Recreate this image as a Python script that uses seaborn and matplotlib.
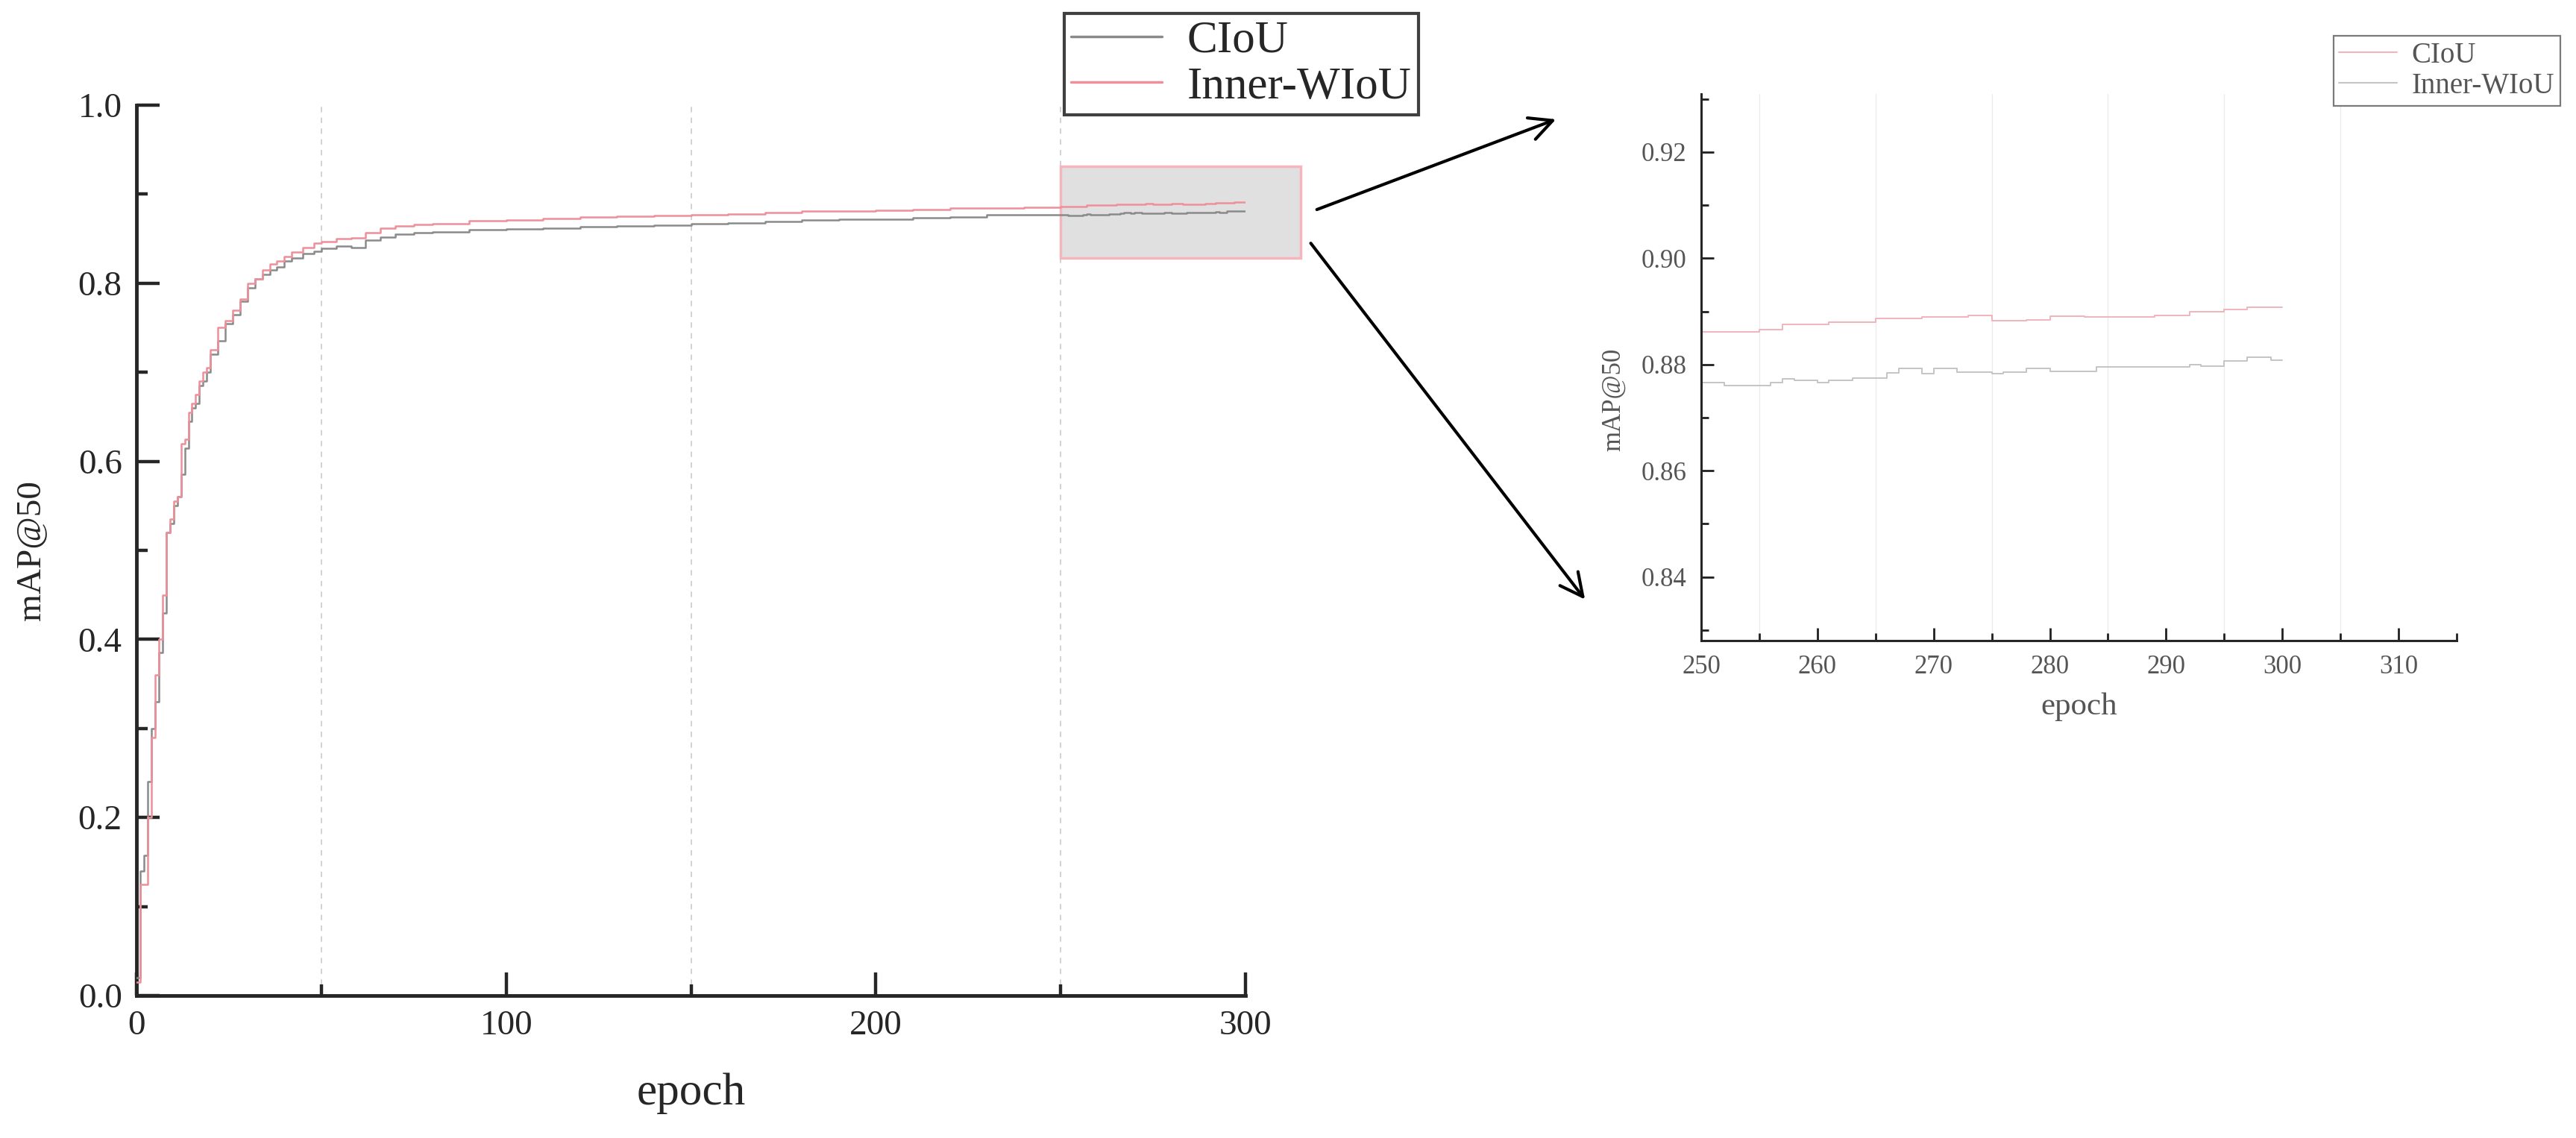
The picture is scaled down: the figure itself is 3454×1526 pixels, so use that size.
import matplotlib
matplotlib.use("Agg")
import matplotlib.pyplot as plt
import numpy as np
import pandas as pd
import seaborn as sns
from matplotlib.lines import Line2D
from matplotlib.patches import Rectangle
from matplotlib.ticker import MultipleLocator

# mAP@50 per epoch (step points)
ciou_epoch = [0, 1, 2, 3, 4, 5, 6, 7, 8, 9, 10, 11, 12, 13, 14, 15, 16, 17, 18, 19, 20,
              22, 24, 26, 28, 30, 32, 34, 36, 38, 40, 42, 45, 48, 50, 54, 58, 62, 66, 70,
              75, 80, 90, 100, 110, 120, 130, 140, 150, 160, 170, 180, 190, 200, 210, 220,
              230, 240, 250, 252, 256, 257, 258, 260, 261, 263, 266, 267, 269, 270, 272,
              275, 276, 278, 280, 284, 292, 293, 295, 297, 299, 300]
ciou_map = [0.02, 0.14, 0.157, 0.24, 0.30, 0.33, 0.385, 0.43, 0.52, 0.53, 0.55, 0.56, 0.585,
            0.615, 0.645, 0.66, 0.665, 0.685, 0.69, 0.70, 0.72,
            0.735, 0.755, 0.765, 0.78, 0.795, 0.805, 0.81, 0.815, 0.818, 0.825, 0.828, 0.833,
            0.836, 0.839, 0.842, 0.840, 0.848, 0.852, 0.855,
            0.857, 0.858, 0.860, 0.861, 0.862, 0.8635, 0.8645, 0.8655, 0.8665, 0.868, 0.8695,
            0.871, 0.8715, 0.8722, 0.8735, 0.8745,
            0.8765, 0.8765, 0.8766, 0.876, 0.8766, 0.8773, 0.877, 0.8766, 0.877, 0.8774,
            0.8784, 0.8792, 0.8783, 0.8792, 0.8786,
            0.8783, 0.8786, 0.8792, 0.8787, 0.8795, 0.880, 0.8797, 0.8807, 0.8813, 0.8808, 0.8808]

wiou_epoch = [0, 1, 2, 3, 4, 5, 6, 7, 8, 9, 10, 11, 12, 13, 14, 15, 16, 17, 18, 19, 20,
              22, 24, 26, 28, 30, 32, 34, 36, 38, 40, 42, 45, 48, 50, 54, 58, 62, 66, 70,
              75, 80, 90, 100, 110, 120, 130, 140, 150, 160, 170, 180, 190, 200, 210, 220,
              230, 240, 250, 255, 257, 261, 265, 269, 273, 275, 278, 280, 283, 289, 292,
              295, 297, 300]
wiou_map = [0.015, 0.125, 0.125, 0.20, 0.29, 0.36, 0.40, 0.45, 0.52, 0.535, 0.555, 0.56, 0.62,
            0.625, 0.655, 0.665, 0.675, 0.69, 0.70, 0.705, 0.725,
            0.75, 0.758, 0.77, 0.782, 0.80, 0.805, 0.815, 0.822, 0.825, 0.83, 0.835, 0.84,
            0.845, 0.847, 0.85, 0.851, 0.857, 0.862, 0.864,
            0.866, 0.867, 0.870, 0.871, 0.873, 0.874, 0.8755, 0.876, 0.8765, 0.878, 0.8795,
            0.8808, 0.881, 0.8815, 0.8825, 0.884,
            0.884, 0.8852, 0.8862, 0.8865, 0.8875, 0.888, 0.8886, 0.8889, 0.8892, 0.8882,
            0.8884, 0.8891, 0.8889, 0.8893, 0.890,
            0.8904, 0.8908, 0.8908]

labels = ["CIoU", "Inner-WIoU"]
zoom_x = (250, 315)
zoom_y = (0.828, 0.931)

GRAY = "#8a8a8a"
PINK = "#ee8f99"

sns.set_style("ticks")
plt.rcParams['font.family'] = ['Liberation Serif', 'DejaVu Serif']

df_c = pd.DataFrame({"epoch": ciou_epoch, "map": ciou_map})
df_w = pd.DataFrame({"epoch": wiou_epoch, "map": wiou_map})

fig = plt.figure(figsize=(34.55, 15.26), dpi=100)

# ---- main plot
ax = fig.add_axes([0.053, 0.1252, 0.4304, 0.7824])
ax.add_patch(Rectangle((zoom_x[0], zoom_y[0]), zoom_x[1] - zoom_x[0], zoom_y[1] - zoom_y[0],
                       facecolor="#e0e0e0", edgecolor="#f5b5bd", lw=2.5, clip_on=False, zorder=1))
sns.lineplot(data=df_c, x="epoch", y="map", ax=ax, color=GRAY, lw=1.8,
             drawstyle="steps-post", estimator=None, zorder=3)
sns.lineplot(data=df_w, x="epoch", y="map", ax=ax, color=PINK, lw=1.8,
             drawstyle="steps-post", estimator=None, zorder=4)
ax.set_xlim(0, 300)
ax.set_ylim(0, 1.0)
ax.xaxis.set_major_locator(MultipleLocator(100))
ax.xaxis.set_minor_locator(MultipleLocator(50))
ax.yaxis.set_major_locator(MultipleLocator(0.2))
ax.yaxis.set_minor_locator(MultipleLocator(0.1))
ax.yaxis.set_major_formatter(plt.FuncFormatter(lambda v, p: f"{v:.1f}"))
ax.grid(False)
for x in [50, 150, 250]:
    ax.axvline(x, color="#cfcfcf", ls=(0, (4, 4)), lw=1.3, zorder=0)
ax.tick_params(which="major", direction="in", length=22, width=3.2, labelsize=34, pad=14)
ax.tick_params(which="minor", direction="in", length=11, width=3.2)
ax.spines[["top", "right"]].set_visible(False)
for s in ["left", "bottom"]:
    ax.spines[s].set_linewidth(3.5)
ax.set_xlabel("epoch", fontsize=44, labelpad=30)
ax.set_ylabel("mAP@50", fontsize=34, labelpad=30)

main_handles = [Line2D([], [], color=GRAY, lw=2.5), Line2D([], [], color=PINK, lw=2.5)]
fig.legend(main_handles, labels, loc="upper right", bbox_to_anchor=(0.5505, 0.9882),
           fontsize=44, frameon=True, fancybox=False, edgecolor="#404040", framealpha=1,
           borderpad=0.15, labelspacing=0.1, handlelength=2.0, handletextpad=0.55,
           borderaxespad=0).get_frame().set_linewidth(3)

# ---- zoomed view
axi = fig.add_axes([0.6602, 0.4371, 0.2932, 0.4806])
ci = df_c[df_c.epoch >= zoom_x[0]]
wi = df_w[df_w.epoch >= zoom_x[0]]
sns.lineplot(data=ci, x="epoch", y="map", ax=axi, color="#c4c4c4", lw=1.4,
             drawstyle="steps-post", estimator=None)
sns.lineplot(data=wi, x="epoch", y="map", ax=axi, color="#f2b3bb", lw=1.4,
             drawstyle="steps-post", estimator=None)
axi.set_xlim(*zoom_x)
axi.set_ylim(*zoom_y)
axi.xaxis.set_major_locator(MultipleLocator(10))
axi.xaxis.set_minor_locator(MultipleLocator(5))
axi.yaxis.set_major_locator(MultipleLocator(0.02))
axi.yaxis.set_minor_locator(MultipleLocator(0.01))
axi.yaxis.set_major_formatter(plt.FuncFormatter(lambda v, p: f"{v:.2f}"))
axi.grid(False)
for x in np.arange(255, 310, 10):
    axi.axvline(x, color="#ececec", lw=1.0, zorder=0)
axi.tick_params(which="major", direction="in", length=12, width=2, labelsize=25,
                pad=14, colors="#202020", labelcolor="#555555")
axi.tick_params(which="minor", direction="in", length=7, width=2, colors="#202020")
axi.spines[["top", "right"]].set_visible(False)
for s in ["left", "bottom"]:
    axi.spines[s].set_linewidth(2.2)
axi.set_xlabel("epoch", fontsize=31, color="#555555", labelpad=12)
axi.set_ylabel("mAP@50", fontsize=25, color="#555555")
axi.yaxis.set_label_coords(-0.1, 0.44)

# the reference legend of the zoomed view has the colours swapped
inset_handles = [Line2D([], [], color="#f2b3bb", lw=1.5), Line2D([], [], color="#c4c4c4", lw=1.5)]
fig.legend(inset_handles, labels, loc="upper right", bbox_to_anchor=(0.9936, 0.9685),
           fontsize=28, frameon=True, fancybox=False, edgecolor="#7a7a7a", framealpha=1,
           borderpad=0.2, labelspacing=0.1, handlelength=2.0, handletextpad=0.5,
           borderaxespad=0, labelcolor="#555555").get_frame().set_linewidth(1.6)

# arrows from the highlighted box to the zoomed view
arrow = dict(arrowstyle="->", lw=3, color="black", mutation_scale=55)
ax.annotate("", xy=(0.6046, 0.8958), xytext=(0.5103, 0.8152), xycoords="figure fraction",
            textcoords="figure fraction", arrowprops=arrow, annotation_clip=False)
ax.annotate("", xy=(0.6156, 0.4718), xytext=(0.5082, 0.7877), xycoords="figure fraction",
            textcoords="figure fraction", arrowprops=arrow, annotation_clip=False)

fig.savefig("out.png", dpi=100)
